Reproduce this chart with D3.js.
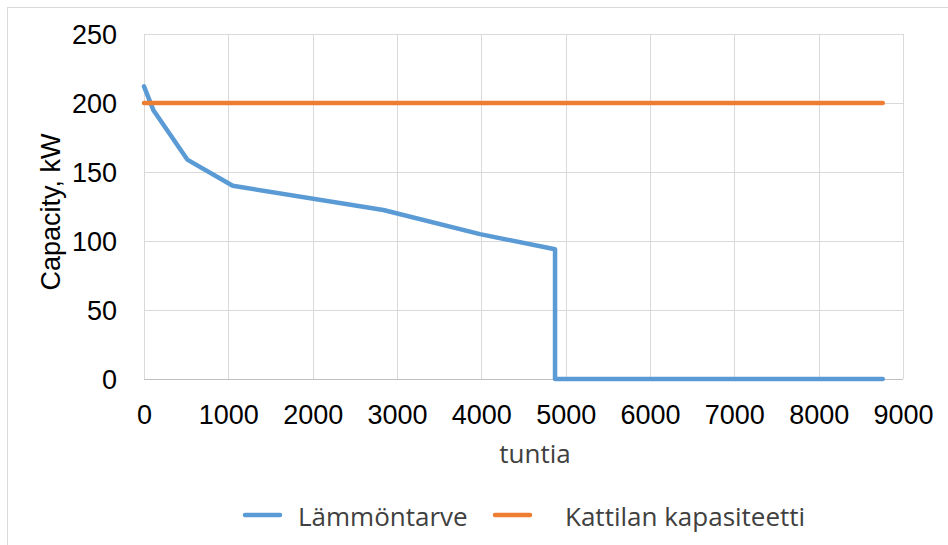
<!DOCTYPE html>
<html>
<head>
<meta charset="utf-8">
<script src="https://cdn.jsdelivr.net/npm/d3@7"></script>
<style>
  html, body { margin: 0; padding: 0; background: #fff; }
  svg { display: block; }
</style>
</head>
<body>
<svg id="chart" width="948" height="545"></svg>
<script>
// ---- Data ----
const demandHours = [0, 110, 513, 1052, 2838, 3984, 4874, 4874, 8760];
const demandKW    = [212, 195, 159, 140, 122.5, 105, 94, 0, 0];
const capacityHours = [0, 8760];
const capacityKW    = [200, 200];
const xTicks = [0, 1000, 2000, 3000, 4000, 5000, 6000, 7000, 8000, 9000];
const yTicks = [0, 50, 100, 150, 200, 250];
const seriesNames = ["Lämmöntarve", "Kattilan kapasiteetti"];
const seriesColors = ["#5B9BD5", "#ED7D31"];
const xTitle = "tuntia";
const yTitle = "Capacity, kW";

// ---- Layout ----
const svg = d3.select("#chart");
const plot = { left: 144, right: 903, top: 34, bottom: 379 };

// outer chart border
svg.append("rect")
  .attr("x", 7.5).attr("y", 7.5)
  .attr("width", 960).attr("height", 560)
  .attr("fill", "#fff").attr("stroke", "#d9d9d9").attr("stroke-width", 1);

const x = d3.scaleLinear().domain([0, 9000]).range([plot.left, plot.right]);
const y = d3.scaleLinear().domain([0, 250]).range([plot.bottom, plot.top]);

// gridlines
const grid = svg.append("g");
grid.selectAll("line.v").data(xTicks).join("line")
  .attr("x1", d => Math.round(x(d)) + 0.5).attr("x2", d => Math.round(x(d)) + 0.5)
  .attr("y1", plot.top).attr("y2", plot.bottom)
  .attr("stroke", "#d9d9d9").attr("stroke-width", 1);
grid.selectAll("line.h").data(yTicks.filter(d => d > 0)).join("line")
  .attr("x1", plot.left).attr("x2", plot.right)
  .attr("y1", d => Math.round(y(d)) + 0.5).attr("y2", d => Math.round(y(d)) + 0.5)
  .attr("stroke", "#d9d9d9").attr("stroke-width", 1);
// x axis baseline
svg.append("line")
  .attr("x1", plot.left).attr("x2", plot.right)
  .attr("y1", Math.round(y(0)) + 0.5).attr("y2", Math.round(y(0)) + 0.5)
  .attr("stroke", "#bfbfbf").attr("stroke-width", 1);

// axes (labels only) via d3 axes
const xAxis = d3.axisBottom(x).tickValues(xTicks).tickFormat(d3.format("d")).tickSize(0).tickPadding(0);
const gx = svg.append("g").attr("transform", `translate(0,${plot.bottom})`).call(xAxis);
gx.select(".domain").remove();
gx.selectAll("text")
  .attr("y", 45).attr("dy", null)
  .attr("font-family", "'Liberation Sans', Arial, sans-serif")
  .attr("font-size", 27).attr("fill", "#000");

const yAxis = d3.axisLeft(y).tickValues(yTicks).tickSize(0).tickPadding(0);
const gy = svg.append("g").attr("transform", `translate(${plot.left},0)`).call(yAxis);
gy.select(".domain").remove();
gy.selectAll("text")
  .attr("x", -27).attr("dy", "0.36em")
  .attr("font-family", "'Liberation Sans', Arial, sans-serif")
  .attr("font-size", 27).attr("fill", "#000");

// axis titles
svg.append("text")
  .attr("transform", `translate(60,212) rotate(-90)`)
  .attr("text-anchor", "middle")
  .attr("font-family", "'Liberation Sans', Arial, sans-serif")
  .attr("font-size", 27).attr("fill", "#000")
  .text(yTitle);

svg.append("text")
  .attr("x", 535).attr("y", 463)
  .attr("text-anchor", "middle")
  .attr("font-family", "'Open Sans', 'Noto Sans', sans-serif")
  .attr("font-size", 26).attr("fill", "#404040")
  .text(xTitle);

// series lines
const line = d3.line().x(d => x(d[0])).y(d => y(d[1]));
const demandData = demandHours.map((h, i) => [h, demandKW[i]]);
const capacityData = capacityHours.map((h, i) => [h, capacityKW[i]]);

svg.append("path").datum(demandData)
  .attr("d", line).attr("fill", "none")
  .attr("stroke", seriesColors[0]).attr("stroke-width", 4.5)
  .attr("stroke-linejoin", "round").attr("stroke-linecap", "round");
svg.append("path").datum(capacityData)
  .attr("d", line).attr("fill", "none")
  .attr("stroke", seriesColors[1]).attr("stroke-width", 4.5)
  .attr("stroke-linejoin", "round").attr("stroke-linecap", "round");

// legend
const legendItems = [
  { name: seriesNames[0], color: seriesColors[0], lx: 245, tx: 298 },
  { name: seriesNames[1], color: seriesColors[1], lx: 495, tx: 565 }
];
const lg = svg.append("g");
legendItems.forEach(it => {
  lg.append("line")
    .attr("x1", it.lx).attr("x2", it.lx + 35)
    .attr("y1", 515).attr("y2", 515)
    .attr("stroke", it.color).attr("stroke-width", 4.5)
    .attr("stroke-linecap", "round");
  lg.append("text")
    .attr("x", it.tx).attr("y", 526)
    .attr("font-family", "'Open Sans', 'Noto Sans', sans-serif")
    .attr("font-size", 26).attr("fill", "#404040")
    .text(it.name);
});
</script>
</body>
</html>
